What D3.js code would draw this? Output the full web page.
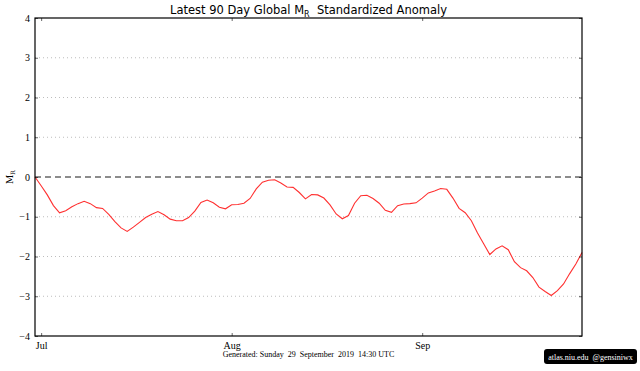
<!DOCTYPE html>
<html>
<head>
<meta charset="utf-8">
<script src="https://cdn.jsdelivr.net/npm/d3@7"></script>
<style>
  body { margin: 0; background: #fff; }
  svg { display: block; }
  .tick text { font-family: "Liberation Serif", serif; font-size: 10px; fill: #000; }
  .domain { display: none; }
</style>
</head>
<body>
<svg id="chart" width="640" height="371"></svg>
<script>
// chart size
var width = 640;
var height = 371;
var margin = { top: 18, right: 58, bottom: 35, left: 35 };

// first day of the 90 day window and daily anomaly values
var startDate = new Date(2019, 5, 30);
var anomaly = [
  0.00, -0.22, -0.45, -0.72, -0.90, -0.85, -0.75, -0.67, -0.61, -0.67,
  -0.77, -0.79, -0.94, -1.12, -1.28, -1.37, -1.26, -1.14, -1.02, -0.94,
  -0.87, -0.95, -1.06, -1.10, -1.10, -1.02, -0.86, -0.64, -0.58, -0.65,
  -0.76, -0.80, -0.70, -0.69, -0.66, -0.54, -0.30, -0.13, -0.08, -0.07,
  -0.15, -0.25, -0.26, -0.39, -0.55, -0.44, -0.45, -0.53, -0.70, -0.93,
  -1.05, -0.97, -0.66, -0.47, -0.46, -0.54, -0.66, -0.84, -0.89, -0.72,
  -0.68, -0.67, -0.65, -0.53, -0.40, -0.35, -0.29, -0.31, -0.53, -0.79,
  -0.90, -1.10, -1.41, -1.68, -1.95, -1.81, -1.73, -1.83, -2.13, -2.28,
  -2.36, -2.53, -2.77, -2.88, -2.98, -2.86, -2.69, -2.43, -2.19, -1.90
];
var yTicks = [-4, -3, -2, -1, 0, 1, 2, 3, 4];
var monthTicks = [new Date(2019, 6, 1), new Date(2019, 7, 1), new Date(2019, 8, 1)];

var data = anomaly.map(function(v, i) {
  return { date: d3.timeDay.offset(startDate, i), value: v };
});

var svg = d3.select("#chart");

var x = d3.scaleTime()
  .domain(d3.extent(data, d => d.date))
  .range([margin.left, width - margin.right]);

var y = d3.scaleLinear()
  .domain([-4, 4])
  .range([height - margin.bottom, margin.top]);

// dotted grid lines
svg.append("g")
  .selectAll("line")
  .data(yTicks.filter(d => d !== 0 && d !== 4 && d !== -4))
  .enter().append("line")
  .attr("x1", margin.left)
  .attr("x2", width - margin.right)
  .attr("y1", d => y(d))
  .attr("y2", d => y(d))
  .style("stroke", "#bdbdbd")
  .style("stroke-width", 1)
  .style("stroke-dasharray", "1,3");

// zero line
svg.append("line")
  .attr("x1", margin.left)
  .attr("x2", width - margin.right)
  .attr("y1", y(0))
  .attr("y2", y(0))
  .style("stroke", "#8c8c8c")
  .style("stroke-width", 2)
  .style("stroke-dasharray", "6,4");

// anomaly line
var line = d3.line()
  .x(d => x(d.date))
  .y(d => y(d.value));

svg.append("path")
  .datum(data)
  .attr("d", line)
  .style("fill", "none")
  .style("stroke", "#ff3030")
  .style("stroke-width", 1.1);

// axes with inward ticks
svg.append("g")
  .attr("transform", "translate(0," + (height - margin.bottom) + ")")
  .call(d3.axisBottom(x).tickValues(monthTicks).tickFormat(d3.timeFormat("%b"))
    .tickSizeInner(-3).tickSizeOuter(0).tickPadding(6));

svg.append("g")
  .attr("transform", "translate(0," + margin.top + ")")
  .call(d3.axisTop(x).tickValues(monthTicks).tickFormat("")
    .tickSizeInner(-3).tickSizeOuter(0));

svg.append("g")
  .attr("transform", "translate(" + margin.left + ",0)")
  .call(d3.axisLeft(y).tickValues(yTicks).tickFormat(d => d < 0 ? "\u2212" + Math.abs(d) : d)
    .tickSizeInner(-3).tickSizeOuter(0).tickPadding(5));

svg.append("g")
  .attr("transform", "translate(" + (width - margin.right) + ",0)")
  .call(d3.axisRight(y).tickValues(yTicks).tickFormat("")
    .tickSizeInner(-3).tickSizeOuter(0));

svg.selectAll(".tick line").style("stroke", "#000").style("stroke-width", 0.6);

// frame
svg.append("rect")
  .attr("x", margin.left)
  .attr("y", margin.top)
  .attr("width", width - margin.left - margin.right)
  .attr("height", height - margin.top - margin.bottom)
  .style("fill", "none")
  .style("stroke", "#000")
  .style("stroke-width", 1.2);

// title
var title = svg.append("text")
  .attr("x", (margin.left + width - margin.right) / 2)
  .attr("y", 14)
  .attr("text-anchor", "middle")
  .style("font-family", "DejaVu Sans, sans-serif")
  .style("font-size", "11.5px");
title.append("tspan").text("Latest 90 Day Global M");
title.append("tspan").attr("dy", 3).style("font-size", "8px").text("R");
title.append("tspan").attr("dy", -3).text("\u00a0 Standardized Anomaly");

// y label
var ylab = svg.append("text")
  .attr("transform", "translate(13," + y(0) + ") rotate(-90)")
  .attr("text-anchor", "middle")
  .style("font-family", "DejaVu Serif, serif")
  .style("font-size", "9px");
ylab.append("tspan").text("M");
ylab.append("tspan").attr("dy", 2).style("font-size", "6px").text("R");

// generated note
svg.append("text")
  .attr("x", (margin.left + width - margin.right) / 2)
  .attr("y", 357)
  .attr("text-anchor", "middle")
  .style("font-family", "Liberation Serif, serif")
  .style("font-size", "8px")
  .style("white-space", "pre")
  .text("Generated: Sunday  29  September  2019  14:30 UTC");

// credit box
svg.append("rect")
  .attr("x", 544)
  .attr("y", 349)
  .attr("width", 93)
  .attr("height", 15)
  .attr("rx", 3)
  .style("fill", "#000");

svg.append("text")
  .attr("x", 590.5)
  .attr("y", 359.5)
  .attr("text-anchor", "middle")
  .style("font-family", "Liberation Serif, serif")
  .style("font-size", "8px")
  .style("fill", "#fff")
  .style("white-space", "pre")
  .text("atlas.niu.edu  @gensiniwx");
</script>
</body>
</html>
